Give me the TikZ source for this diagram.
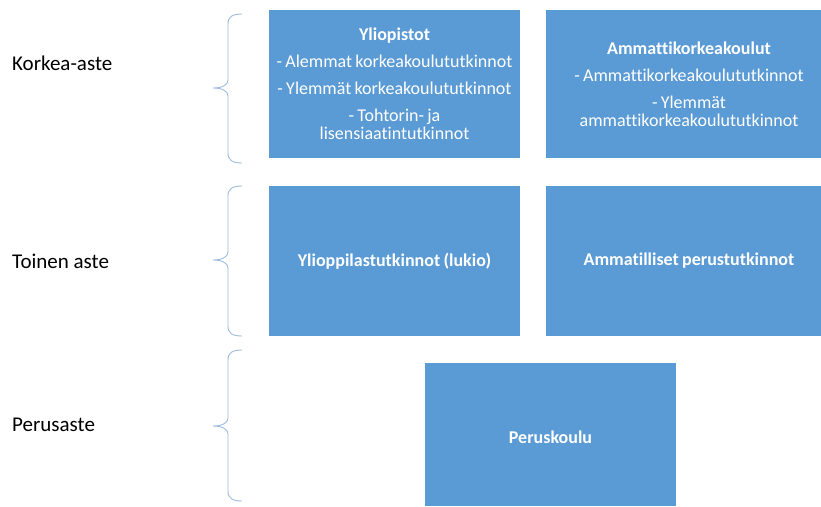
\documentclass[tikz,border=0pt]{standalone}
\usepackage{fontspec}
\setmainfont{Carlito}[Ligatures=NoCommon]
\newfontfamily\boxfont{Carlito}[Ligatures=NoCommon,WordSpace=0.8]
\definecolor{boxblue}{HTML}{5B9BD5}
\definecolor{bracecol}{HTML}{9DBBDE}
\begin{document}
\begin{tikzpicture}[x=1pt,y=-1pt,
  blk/.style={fill=boxblue,draw=none,text=white,align=center,inner sep=0pt,
    font=\boxfont\fontsize{18}{18}\selectfont},
  lvl/.style={anchor=west,inner sep=0pt,font=\fontsize{21}{24}\selectfont}]
\useasboundingbox (0,0) rectangle (821,506);
% boxes
\path[fill=boxblue] (269,10) rectangle (520,158);
\node[blk] (b1) at (394.5,84) {\textbf{Yliopistot}\\[9pt]- Alemmat korkeakoulututkinnot\\[9pt]- Ylemmät korkeakoulututkinnot\\[9pt]- Tohtorin- ja\\lisensiaatintutkinnot};
\path[fill=boxblue] (546,10) rectangle (821,158);
\node[blk] (b2) at (689,84) {\textbf{Ammattikorkeakoulut}\\[9pt]- Ammattikorkeakoulututkinnot\\[9pt]- Ylemmät\\ammattikorkeakoulututkinnot};
\path[fill=boxblue] (269,186) rectangle (520,336);
\node[blk] (b3) at (394.5,261) {\textbf{Ylioppilastutkinnot (lukio)}};
\path[fill=boxblue] (546,186) rectangle (821,336);
\node[blk] (b4) at (689,261) {\textbf{Ammatilliset perustutkinnot}};
\path[fill=boxblue] (425,363) rectangle (676,506);
\node[blk] (b5) at (550.5,437) {\textbf{Peruskoulu}};
% level labels
\node[lvl] (l1) at (12,63) {Korkea-aste};
\node[lvl] (l2) at (12,261) {Toinen aste};
\node[lvl] (l3) at (12,425) {Perusaste};
% braces
\foreach \t/\m/\b in {14/88/163, 186/260/336, 350/426/501}{
  \draw[bracecol,line width=0.9pt]
    (242,\t) .. controls (232,\t) and (228,\t+3) .. (228,\t+10)
    -- (228,\m-8) .. controls (228,\m-3) and (222,\m) .. (213,\m)
    .. controls (222,\m) and (228,\m+3) .. (228,\m+8)
    -- (228,\b-10) .. controls (228,\b-3) and (232,\b) .. (242,\b);
}
\end{tikzpicture}
\end{document}
